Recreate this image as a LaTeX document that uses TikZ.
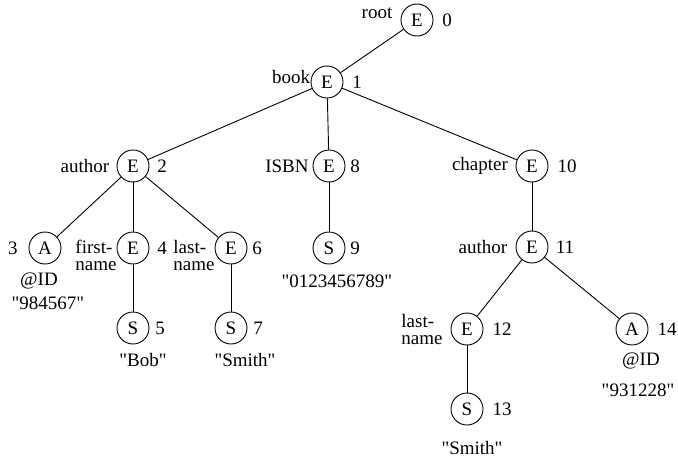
\documentclass[tikz,border=0pt]{standalone}
\usepackage{fontspec}
\setmainfont[Ligatures=TeXOff]{Liberation Serif}
\begin{document}
\begin{tikzpicture}[x=1pt,y=-1pt,
  vtx/.style={circle,draw,line width=0.9pt,minimum size=32pt,inner sep=0pt,font=\fontsize{19}{19}\selectfont},
  lbl/.style={font=\fontsize{19}{19}\selectfont,inner sep=0pt},
  lbl2/.style={font=\fontsize{19}{17}\selectfont,inner sep=0pt,align=left},
  edge/.style={line width=0.9pt}]
\useasboundingbox (0,0) rectangle (678,463);
% vertices
\node[vtx] (n0) at (417,20) {E};
\node[vtx] (n1) at (327,82) {E};
\node[vtx] (n2) at (133,166) {E};
\node[vtx] (n8) at (329,166) {E};
\node[vtx] (n10) at (532,166) {E};
\node[vtx] (n3) at (45,248) {A};
\node[vtx] (n4) at (133,248) {E};
\node[vtx] (n6) at (231,248) {E};
\node[vtx] (n9) at (329,248) {S};
\node[vtx] (n11) at (532,247) {E};
\node[vtx] (n5) at (133,328) {S};
\node[vtx] (n7) at (231,328) {S};
\node[vtx] (n12) at (467,329) {E};
\node[vtx] (n14) at (632,329) {A};
\node[vtx] (n13) at (467,409) {S};
% edges
\draw[edge] (n0) -- (n1);
\draw[edge] (n1) -- (n2);
\draw[edge] (n1) -- (n8);
\draw[edge] (n1) -- (n10);
\draw[edge] (n2) -- (n3);
\draw[edge] (n2) -- (n4);
\draw[edge] (n2) -- (n6);
\draw[edge] (n4) -- (n5);
\draw[edge] (n6) -- (n7);
\draw[edge] (n8) -- (n9);
\draw[edge] (n10) -- (n11);
\draw[edge] (n11) -- (n12);
\draw[edge] (n11) -- (n14);
\draw[edge] (n12) -- (n13);
% names
\node[lbl] (t0) at (377,13) {root};
\node[lbl] (t1) at (291,77) {book};
\node[lbl] (t2) at (85,166) {author};
\node[lbl] (t8) at (287,166) {ISBN};
\node[lbl] (t10) at (480,166) {chapter};
\node[lbl2] (t4) at (96,255) {first-\\name};
\node[lbl2] (t6) at (194,255) {last-\\name};
\node[lbl] (t11) at (483,247) {author};
\node[lbl2] (t12) at (422,329) {last-\\name};
% numbers
\node[lbl] (i0) at (447,20) {0};
\node[lbl] (i1) at (357,82) {1};
\node[lbl] (i2) at (162,166) {2};
\node[lbl] (i8) at (355,166) {8};
\node[lbl] (i10) at (567,166) {10};
\node[lbl] (i3) at (13,248) {3};
\node[lbl] (i4) at (162,248) {4};
\node[lbl] (i6) at (257,248) {6};
\node[lbl] (i9) at (355,248) {9};
\node[lbl] (i11) at (565,247) {11};
\node[lbl] (i5) at (160,328) {5};
\node[lbl] (i7) at (258,328) {7};
\node[lbl] (i12) at (502,329) {12};
\node[lbl] (i14) at (667,329) {14};
\node[lbl] (i13) at (502,409) {13};
% values
\node[lbl] (v3a) at (39,281) {@ID};
\node[lbl] (v3b) at (48,303) {"984567"};
\node[lbl] (v9) at (337,281) {"0123456789"};
\node[lbl] (v5) at (143,360) {"Bob"};
\node[lbl] (v7) at (245,360) {"Smith"};
\node[lbl] (v14a) at (641,361) {@ID};
\node[lbl] (v14b) at (638,390) {"931228"};
\node[lbl] (v13) at (472,448) {"Smith"};
\end{tikzpicture}
\end{document}
